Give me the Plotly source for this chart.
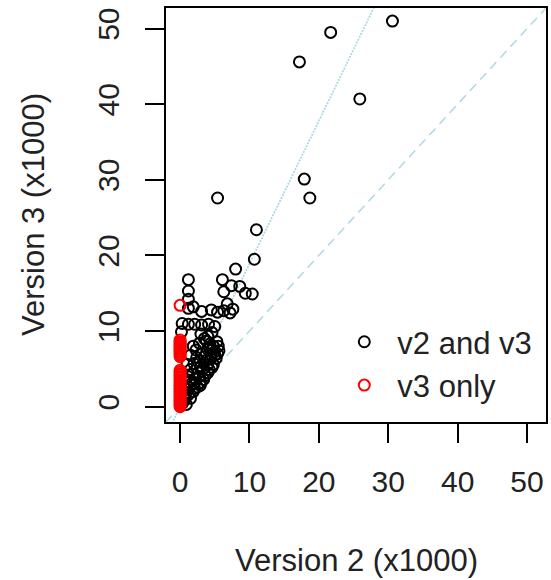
import plotly.graph_objects as go

# Points present in both versions (x = version 2, y = version 3), in thousands
v2_both = [30.6, 21.7, 17.2, 25.9, 17.9, 18.7, 5.4, 11.0, 10.7, 8.0, 6.1, 1.2, 7.4, 8.6, 10.4,
           1.2, 6.3, 1.2, 9.4, 1.9, 1.2, 3.1, 4.5, 5.4, 6.3, 7.2, 7.6, 6.8, 0.3, 1.2, 2.1,
           3.1, 4.1, 5.0, 0.2, 3.0, 4.0, 4.6, 5.3, 4.8, 5.6, 4.0, 3.2, 4.5, 5.2, 2.4, 3.7,
           4.8, 2.0, 3.0, 4.2, 1.5, 2.6, 3.6, 1.1, 2.2, 3.0, 1.6, 2.5, 1.0, 1.9, 1.2, 0.7,
           1.5, 0.4, 0.9, 2.8, 1.9, 1.5, 1.0,
           1.3, 2.0, 2.8, 3.3, 3.9, 4.4, 4.9, 5.5, 2.9, 3.5, 4.2, 1.8, 2.4, 1.3, 0.6, 0.9,
           2.1, 2.9, 3.4, 4.0, 4.6, 5.0, 5.4, 3.8, 4.3, 2.3, 3.5]
v3_both = [51.0, 49.5, 45.6, 40.7, 30.1, 27.6, 27.6, 23.4, 19.5, 18.2, 16.8, 16.8, 16.0, 15.9, 14.9,
           15.3, 15.2, 14.2, 15.0, 13.2, 13.0, 12.6, 12.8, 12.5, 12.7, 12.4, 12.9, 13.6, 11.0, 10.9, 10.9,
           10.8, 10.9, 10.6, 9.9, 9.6, 9.3, 9.8, 8.6, 8.0, 7.4, 7.6, 7.0, 6.9, 6.4, 6.5, 6.1,
           5.6, 5.7, 5.3, 4.9, 4.9, 4.5, 4.1, 4.0, 3.7, 3.2, 3.0, 2.6, 2.3, 2.0, 1.6, 1.0,
           1.1, 0.5, 0.3, 8.4, 8.0, 6.8, 5.6,
           2.5, 3.0, 4.0, 5.0, 5.5, 6.3, 7.2, 8.0, 6.0, 6.6, 7.9, 4.3, 5.1, 3.3, 1.5, 1.9,
           2.4, 2.8, 3.6, 4.5, 5.2, 6.8, 7.0, 8.7, 8.3, 7.5, 9.0]

# Points present only in version 3 (version 2 value is zero)
v2_only3 = [0.0, 0.0, 0.0, 0.0, 0.0, 0.0, 0.0, 0.0, 0.0, 0.0, 0.0, 0.0, 0.0,
            0.0, 0.0, 0.0, 0.0, 0.0, 0.0, 0.0, 0.0, 0.0, 0.0, 0.0, 0.0, 0.0,
            0.0, 0.0, 0.0, 0.0, 0.0, 0.0, 0.0, 0.0, 0.0, 0.0, 0.0, 0.0]
v3_only3 = [13.4, 8.8, 8.6, 8.4, 8.2, 8.0, 7.8, 7.6, 7.4, 7.2, 7.0, 6.8, 6.6,
            4.8, 4.6, 4.4, 4.2, 4.0, 3.8, 3.6, 3.4, 3.2, 3.0, 2.8, 2.6, 2.4,
            2.2, 2.0, 1.8, 1.6, 1.4, 1.2, 1.0, 0.8, 0.6, 0.4, 0.2, 0.0]

# Reference lines
identity_x = [-5, 60]
fit_slope = 1.89

axis_range = [-2.03, 52.73]
tick_vals = [0, 10, 20, 30, 40, 50]
tick_text = ["0", "10", "20", "30", "40", "50"]

FONT = "Liberation Sans, Arial, sans-serif"
LB = "#ADD8E6"

fig = go.Figure()

fig.add_trace(go.Scatter(x=identity_x, y=identity_x, mode="lines",
                         line=dict(color=LB, width=1.5, dash="9px,6px"),
                         showlegend=False, hoverinfo="skip"))
fig.add_trace(go.Scatter(x=identity_x, y=[fit_slope * v for v in identity_x], mode="lines",
                         line=dict(color=LB, width=1.8, dash="2px,1.2px"),
                         showlegend=False, hoverinfo="skip"))

fig.add_trace(go.Scatter(x=v2_both, y=v3_both, mode="markers", name="v2 and v3",
                         marker=dict(symbol="circle-open", size=11, color="black",
                                     line=dict(width=2, color="black"))))
fig.add_trace(go.Scatter(x=v2_only3, y=v3_only3, mode="markers", name="v3 only",
                         marker=dict(symbol="circle-open", size=11, color="red",
                                     line=dict(width=2, color="red"))))

axis_common = dict(range=axis_range, tickvals=tick_vals, ticktext=tick_text,
                   showgrid=False, zeroline=False, showline=True, mirror=True,
                   linecolor="black", linewidth=1.5, ticks="outside", ticklen=19,
                   tickwidth=1.5, tickcolor="black",
                   tickfont=dict(family=FONT, size=30, color="#222222"))

fig.update_xaxes(**axis_common, ticklabelstandoff=13)
fig.update_yaxes(**axis_common, tickangle=-90, ticklabelstandoff=14)

fig.update_layout(
    width=551, height=580,
    margin=dict(l=166, r=3, t=8, b=158),
    plot_bgcolor="white", paper_bgcolor="white",
    font=dict(family=FONT, size=31, color="#222222"),
    legend=dict(x=0.435, y=0.141, xanchor="left", yanchor="middle",
                bgcolor="rgba(0,0,0,0)", font=dict(size=31),
                itemwidth=56, tracegroupgap=0),
    annotations=[
        dict(text="Version 2 (x1000)", xref="paper", yref="paper", x=0.5, y=0,
             yshift=-138, showarrow=False, xanchor="center", yanchor="middle",
             font=dict(size=31)),
        dict(text="Version 3 (x1000)", xref="paper", yref="paper", x=0, y=0.5,
             xshift=-133, showarrow=False, xanchor="center", yanchor="middle",
             textangle=-90, font=dict(size=31)),
    ],
)

# remove the default page margin so the figure fills the window exactly
page_css = ("document.documentElement.style.overflow='hidden';"
            "document.body.style.margin='0';"
            "document.body.style.overflow='hidden';")

fig.write_html("out.html", post_script=page_css, config={"displayModeBar": False})
